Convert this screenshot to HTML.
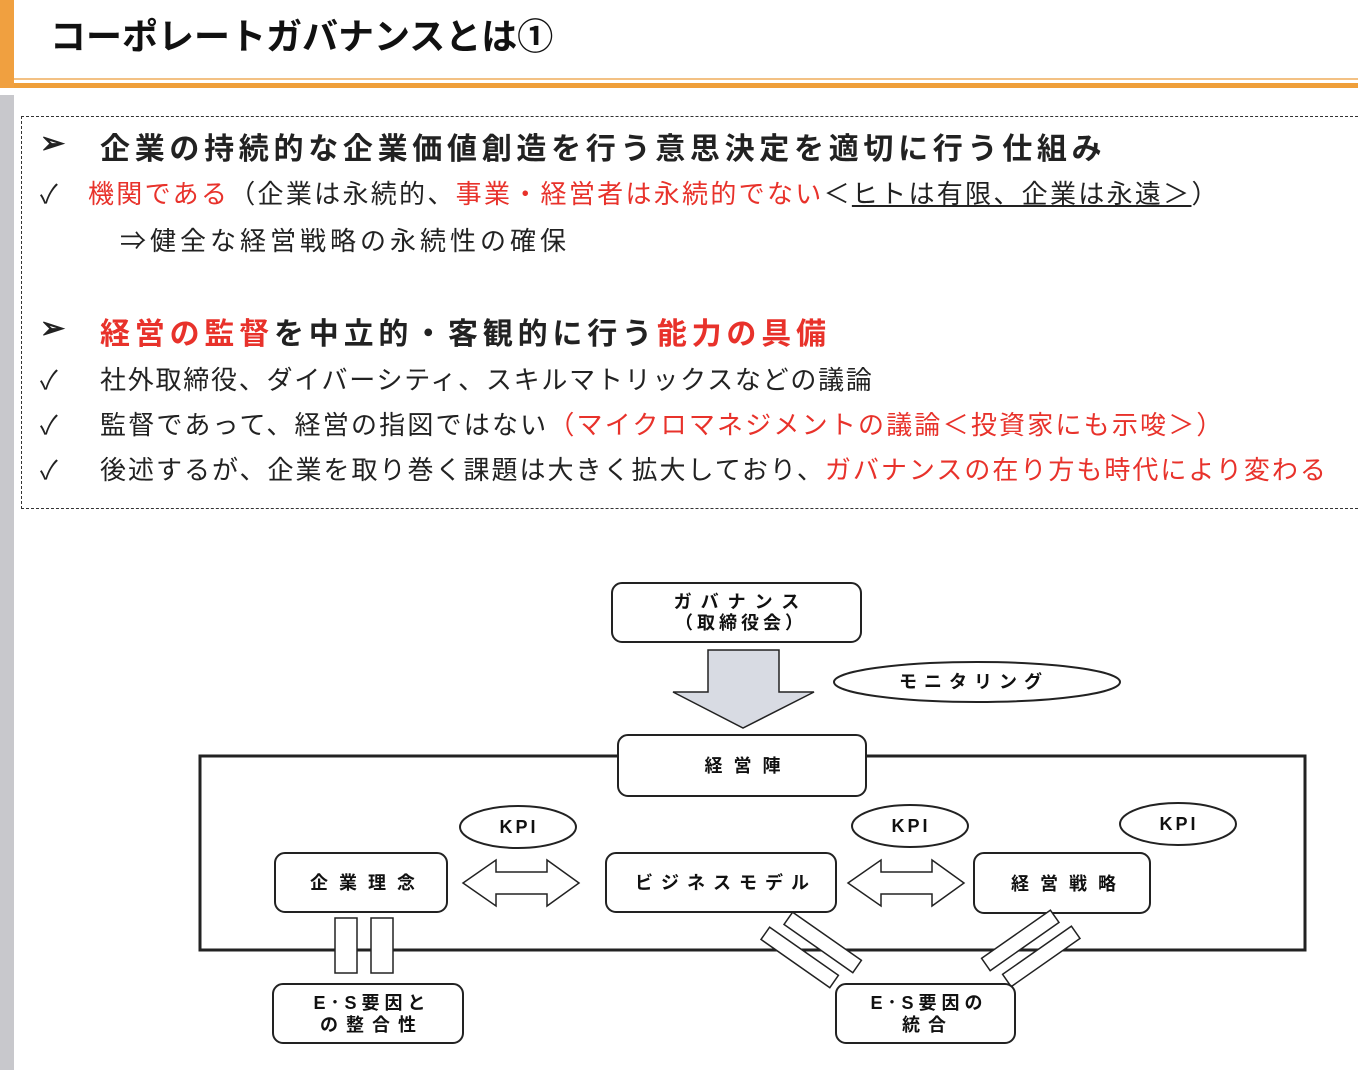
<!DOCTYPE html>
<html><head><meta charset="utf-8"><style>
body{margin:0;width:1358px;height:1070px;background:#fff;position:relative;overflow:hidden;font-family:"Liberation Sans","Noto Sans CJK JP",sans-serif;}
.t{position:absolute;white-space:nowrap;color:#222;}
.r{color:#e8322b;}
</style></head><body>
<div style="position:absolute;left:0;top:0;width:14px;height:88px;background:#f0a040"></div>
<div style="position:absolute;left:0;top:95px;width:14px;height:975px;background:#c8c8cc"></div>
<div style="position:absolute;left:14px;top:78px;width:1344px;height:2px;background:#f3c184"></div>
<div style="position:absolute;left:14px;top:83px;width:1344px;height:5px;background:#ef9f3a"></div>
<div class="t" style="left:50px;top:8px;font-size:36px;color:#111;font-weight:bold;">コーポレートガバナンスとは①</div>
<div style="position:absolute;left:21px;top:116px;width:1345px;height:391px;border:1px dashed #333;"></div>
<div class="t" style="left:40px;top:126px;font-size:30px;font-weight:bold;">➢</div>
<div class="t" style="left:100px;top:124px;font-size:30px;font-weight:bold;letter-spacing:4.7px;">企業の持続的な企業価値創造を行う意思決定を適切に行う仕組み</div>
<div class="t" style="left:40px;top:174px;font-size:26px;">✓</div>
<div class="t" style="left:88px;top:174px;font-size:26px;letter-spacing:2.3px;"><span class="r">機関である</span>（企業は永続的、<span class="r">事業・経営者は永続的でない</span>＜<u>ヒトは有限、企業は永遠＞</u>）</div>
<div class="t" style="left:120px;top:221px;font-size:26px;letter-spacing:4px;">⇒健全な経営戦略の永続性の確保</div>
<div class="t" style="left:40px;top:311px;font-size:30px;font-weight:bold;">➢</div>
<div class="t" style="left:100px;top:309px;font-size:30px;font-weight:bold;letter-spacing:4.8px;"><span class="r">経営の監督</span>を中立的・客観的に行う<span class="r">能力の具備</span></div>
<div class="t" style="left:40px;top:360px;font-size:26px;">✓</div>
<div class="t" style="left:100px;top:360px;font-size:26px;letter-spacing:1.75px;">社外取締役、ダイバーシティ、スキルマトリックスなどの議論</div>
<div class="t" style="left:40px;top:405px;font-size:26px;">✓</div>
<div class="t" style="left:100px;top:405px;font-size:26px;letter-spacing:2.2px;">監督であって、経営の指図ではない<span class="r">（マイクロマネジメントの議論＜投資家にも示唆＞）</span></div>
<div class="t" style="left:40px;top:450px;font-size:26px;">✓</div>
<div class="t" style="left:100px;top:450px;font-size:26px;letter-spacing:2px;">後述するが、企業を取り巻く課題は大きく拡大しており、<span class="r">ガバナンスの在り方も時代により変わる</span></div>
<svg style="position:absolute;left:0;top:0" width="1358" height="1070" font-family="Liberation Sans,Noto Sans CJK JP,sans-serif" font-weight="bold" font-size="18" text-anchor="middle" fill="none" stroke="#222" stroke-width="2">
<rect x="200" y="756" width="1105" height="194" stroke-width="3"/>
<rect x="612" y="583" width="249" height="59" rx="10" fill="#fff"/>
<polygon points="708,650 779,650 779,692 814,692 743,728 673,692 708,692" fill="#d8dbe3" stroke-width="1.5"/>
<ellipse cx="977" cy="682" rx="143" ry="20" fill="#fff"/>
<rect x="618" y="735" width="248" height="61" rx="10" fill="#fff"/>
<ellipse cx="518" cy="827" rx="58" ry="21" fill="#fff"/>
<ellipse cx="910" cy="826" rx="58" ry="21" fill="#fff"/>
<ellipse cx="1178" cy="824" rx="58" ry="21" fill="#fff"/>
<rect x="275" y="853" width="172" height="59" rx="10" fill="#fff"/>
<rect x="606" y="853" width="230" height="59" rx="10" fill="#fff"/>
<rect x="974" y="853" width="176" height="60" rx="10" fill="#fff"/>
<polygon points="463,883 496,860 496,872 547,872 547,860 579,883 547,906 547,894 496,894 496,906" fill="#fff" stroke-width="1.5"/>
<polygon points="848,883 881,860 881,872 932,872 932,860 964,883 932,906 932,894 881,894 881,906" fill="#fff" stroke-width="1.5"/>
<rect x="335" y="918" width="22" height="55" fill="#fff" stroke-width="1.5"/>
<rect x="371" y="918" width="22" height="55" fill="#fff" stroke-width="1.5"/>
<g stroke-width="1.5" fill="#fff">
<rect x="-42" y="-7" width="84" height="15" transform="translate(800,957) rotate(35)"/>
<rect x="-42" y="-7" width="84" height="15" transform="translate(823,942) rotate(35)"/>
<rect x="-42" y="-7" width="84" height="15" transform="translate(1020,940) rotate(-35)"/>
<rect x="-42" y="-7" width="84" height="15" transform="translate(1041,956) rotate(-35)"/>
</g>
<rect x="273" y="984" width="190" height="59" rx="10" fill="#fff"/>
<rect x="836" y="984" width="179" height="59" rx="10" fill="#fff"/>
<g fill="#111" stroke="none">
<text x="741" y="608" letter-spacing="9">ガバナンス</text>
<text x="741" y="629" letter-spacing="4">（取締役会）</text>
<text x="974" y="688" letter-spacing="7">モニタリング</text>
<text x="748" y="772" letter-spacing="11">経営陣</text>
<text x="519" y="833" letter-spacing="3">KPI</text>
<text x="911" y="832" letter-spacing="3">KPI</text>
<text x="1179" y="830" letter-spacing="3">KPI</text>
<text x="368" y="889" letter-spacing="11">企業理念</text>
<text x="726" y="889" letter-spacing="8">ビジネスモデル</text>
<text x="1069" y="890" letter-spacing="11">経営戦略</text>
<text x="372" y="1009" letter-spacing="5">E･S要因と</text>
<text x="372" y="1031" letter-spacing="8">の整合性</text>
<text x="929" y="1009" letter-spacing="5">E･S要因の</text>
<text x="928" y="1031" letter-spacing="8">統合</text>
</g>
</svg>
</body></html>
